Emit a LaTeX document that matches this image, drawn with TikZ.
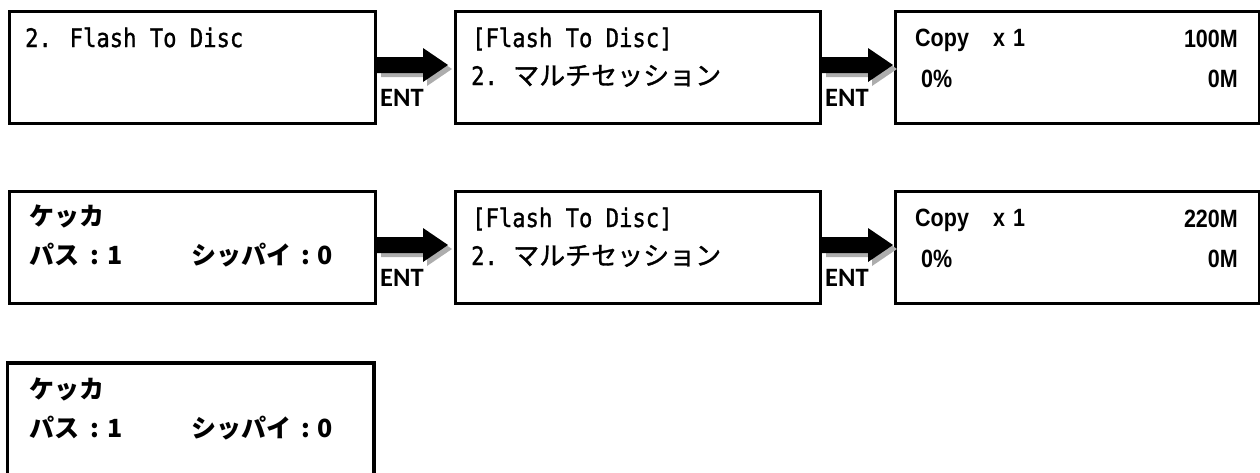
\documentclass[tikz,border=0pt]{standalone}
\usepackage{fontspec}
\newfontfamily\monof[FakeStretch=0.87,FakeBold=1.2]{DejaVu Sans Mono}
\newfontfamily\jpf[FakeBold=1.2]{Noto Sans CJK JP}
\newfontfamily\jpbf{Noto Sans CJK JP}
\newfontfamily\narrowf[FakeStretch=0.86]{Liberation Sans}
\newfontfamily\entf{Carlito}
\tikzset{
  lcd/.style={draw=black, line width=3.2pt, fill=white},
  arrowbody/.style={fill=black},
  arrowshadow/.style={fill=black!32},
  txt/.style={inner sep=0pt, anchor=base west},
  txtr/.style={inner sep=0pt, anchor=base east},
  mono/.style={font=\monof\fontsize{25.5}{30}\selectfont},
  jpb/.style={font=\jpbf\bfseries\fontsize{25}{30}\selectfont},
  nar/.style={font=\narrowf\bfseries\fontsize{25}{28}\selectfont},
  entlbl/.style={font=\entf\bfseries\fontsize{26.5}{30}\selectfont, inner sep=0pt, anchor=base west},
}
\newcommand{\entarrow}[3]{% #1 x of shaft start, #2 y offset, #3 name
  \fill[arrowshadow] (#1+4,57+#2+4) -- (#1+46+4,57+#2+4) -- (#1+46+4,48+#2+4) -- (#1+71+4,65+#2+4) -- (#1+46+4,82+#2+4) -- (#1+46+4,73+#2+4) -- (#1+4,73+#2+4) -- cycle;
  \fill[arrowbody] (#1,57+#2) -- (#1+46,57+#2) -- (#1+46,48+#2) -- (#1+71,65+#2) -- (#1+46,82+#2) -- (#1+46,73+#2) -- (#1,73+#2) -- cycle;
  \node[entlbl] (#3) at (#1+3,106+#2) {ENT};
}
\newcommand{\multiline}{\makebox[42pt][l]{\monof\fontsize{25.5}{30}\selectfont 2.}\jpf\fontsize{26}{30}\selectfont マルチセッション}
\begin{document}
\begin{tikzpicture}[x=1pt,y=-1pt]
\useasboundingbox (0,0) rectangle (1260,472);
% ---------- row 1 ----------
\node[lcd, minimum width=366.5pt, minimum height=112.5pt, anchor=north west, inner sep=0pt] (a1) at (7.5,9.5) {};
\node[lcd, minimum width=365pt, minimum height=112.5pt, anchor=north west, inner sep=0pt] (b1) at (453.7,9.5) {};
\node[lcd, minimum width=363.8pt, minimum height=112.5pt, anchor=north west, inner sep=0pt] (c1) at (893.7,9.5) {};
\node[txt, mono] (a1t) at (25,47) {2. Flash To Disc};
\node[txt, mono] (b1t1) at (472,47) {[Flash To Disc]};
\node[txt] (b1t2) at (471,85) {\multiline};
\node[txt, nar] (c1t1) at (915,46) {Copy};
\node[txt, nar] (c1t2) at (993,46) {x\hspace{8pt}1};
\node[txtr, nar] (c1t3) at (1238,47) {100M};
\node[txt, nar] (c1t4) at (921,87) {0\%};
\node[txtr, nar] (c1t5) at (1238,87) {0M};
\entarrow{377}{0}{e1}
\entarrow{822}{0}{e2}
% ---------- row 2 ----------
\node[lcd, minimum width=366.5pt, minimum height=112pt, anchor=north west, inner sep=0pt] (a2) at (7.5,190) {};
\node[lcd, minimum width=365pt, minimum height=112pt, anchor=north west, inner sep=0pt] (b2) at (453.7,190) {};
\node[lcd, minimum width=363.8pt, minimum height=112pt, anchor=north west, inner sep=0pt] (c2) at (893.7,190) {};
\node[txt, jpb] (a2t1) at (29,225) {ケッカ};
\node[txt, jpb] (a2t2) at (29,264) {パス\hspace{11pt}:\hspace{9pt}1};
\node[txt, jpb] (a2t3) at (191,264) {シッパイ\hspace{10pt}:\hspace{8pt}0};
\node[txt, mono] (b2t1) at (472,227) {[Flash To Disc]};
\node[txt] (b2t2) at (471,265) {\multiline};
\node[txt, nar] (c2t1) at (915,226) {Copy};
\node[txt, nar] (c2t2) at (993,226) {x\hspace{8pt}1};
\node[txtr, nar] (c2t3) at (1238,227) {220M};
\node[txt, nar] (c2t4) at (921,267) {0\%};
\node[txtr, nar] (c2t5) at (1238,267) {0M};
\entarrow{377}{180}{e3}
\entarrow{822}{180}{e4}
% ---------- row 3 ----------
\draw[draw=black, line width=3.2pt] (7.5,480) -- (7.5,363) -- (374,363) -- (374,480);
\node[txt, jpb] (a3t1) at (29,398) {ケッカ};
\node[txt, jpb] (a3t2) at (29,437) {パス\hspace{11pt}:\hspace{9pt}1};
\node[txt, jpb] (a3t3) at (191,437) {シッパイ\hspace{10pt}:\hspace{8pt}0};
\end{tikzpicture}
\end{document}
